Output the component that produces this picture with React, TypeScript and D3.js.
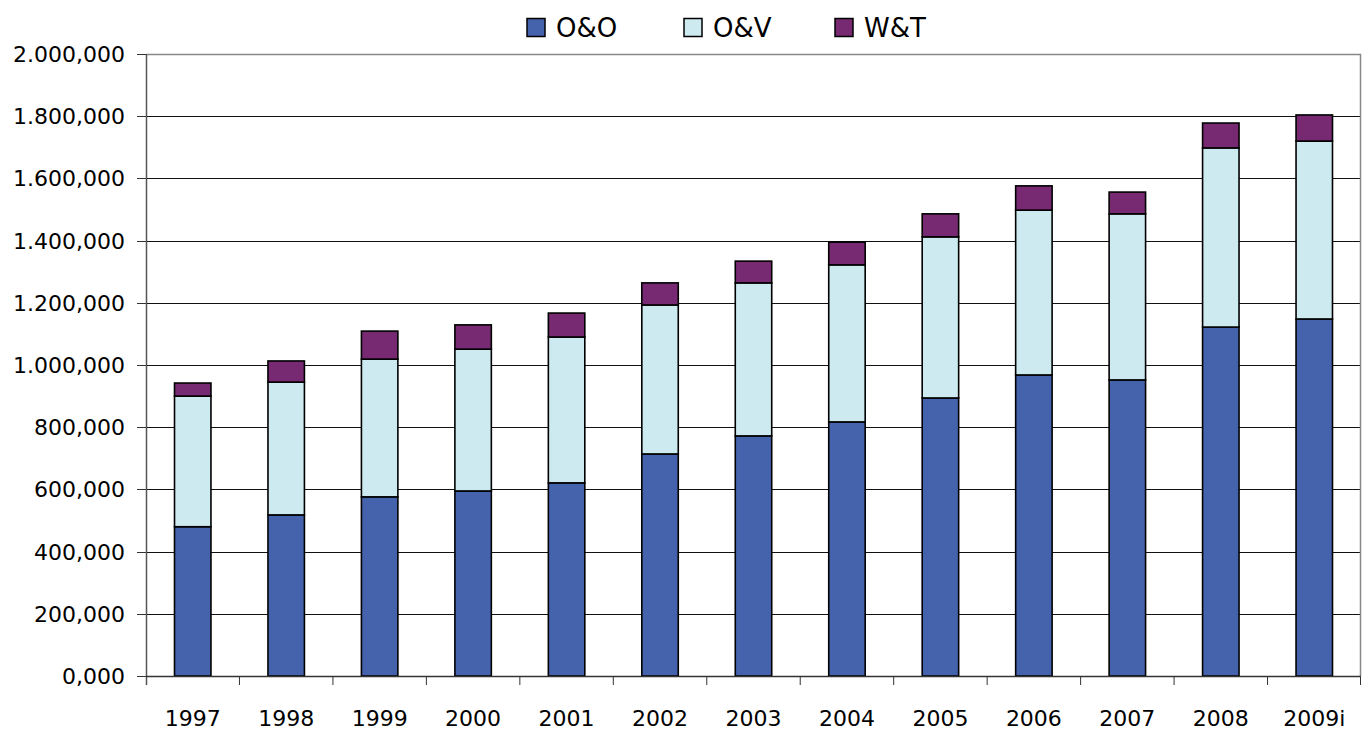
import React, { useEffect, useRef } from 'react';
import * as d3 from 'd3';

const years = ['1997', '1998', '1999', '2000', '2001', '2002', '2003', '2004', '2005', '2006', '2007', '2008', '2009i'];
const seriesKeys = ['O&O', 'O&V', 'W&T'];
const oeo = [480, 518, 576, 595, 621, 714, 772, 817, 894, 968, 952, 1122, 1148];
const oev = [420, 427, 443, 456, 469, 479, 492, 505, 518, 530, 534, 576, 572];
const wet = [42, 68, 90, 78, 77, 71, 70, 73, 74, 78, 70, 80, 84];
const yTicks = [0, 200, 400, 600, 800, 1000, 1200, 1400, 1600, 1800, 2000];

const colors: Record<string, string> = {
  'O&O': '#4563ad',
  'O&V': '#cdeaf0',
  'W&T': '#772a72',
};

const fmt = (v: number) => {
  if (v === 0) return '0,000';
  const m = Math.floor(v / 1000);
  const k = v % 1000;
  return m > 0 ? `${m}.${String(k).padStart(3, '0')},000` : `${k},000`;
};

function App() {
  const svgRef = useRef<SVGSVGElement>(null);

  useEffect(() => {
    const width = 1365;
    const height = 731;
    const margin = { top: 54, right: 4, bottom: 55, left: 146 };
    const innerWidth = width - margin.left - margin.right;
    const innerHeight = height - margin.top - margin.bottom;

    const svg = d3.select(svgRef.current);
    svg.selectAll('*').remove();
    svg.attr('width', width).attr('height', height);

    const font = 'DejaVu Sans, sans-serif';

    const table = years.map((y, i) => ({ year: y, 'O&O': oeo[i], 'O&V': oev[i], 'W&T': wet[i] }));
    const stacked = d3.stack<any>().keys(seriesKeys)(table);

    const x = d3.scaleBand().domain(years).range([0, innerWidth]).padding(0);
    const y = d3.scaleLinear().domain([0, 2000]).range([innerHeight, 0]);
    const barW = x.bandwidth() * 0.39;

    const g = svg.append('g').attr('transform', `translate(${margin.left},${margin.top})`);

    // gridlines
    g.selectAll('line.grid')
      .data(yTicks.filter((t) => t > 0 && t < 2000))
      .enter()
      .append('line')
      .attr('x1', 0)
      .attr('x2', innerWidth)
      .attr('y1', (d) => Math.round(y(d)) + 0.5)
      .attr('y2', (d) => Math.round(y(d)) + 0.5)
      .attr('stroke', '#111')
      .attr('stroke-width', 1);

    // plot border (top + right)
    g.append('path')
      .attr('d', `M0,${Math.round(y(2000)) + 0.5}H${innerWidth - 0.5}V${innerHeight}`)
      .attr('fill', 'none')
      .attr('stroke', '#888')
      .attr('stroke-width', 1.5);

    // bars
    stacked.forEach((layer) => {
      g.selectAll(`rect.s${layer.index}`)
        .data(layer)
        .enter()
        .append('rect')
        .attr('x', (d: any) => (x(d.data.year) || 0) + (x.bandwidth() - barW) / 2)
        .attr('y', (d) => y(d[1]))
        .attr('width', barW)
        .attr('height', (d) => y(d[0]) - y(d[1]))
        .attr('fill', colors[layer.key])
        .attr('stroke', '#000')
        .attr('stroke-width', 1.6);
    });

    // y axis
    g.append('line')
      .attr('x1', 0.5).attr('x2', 0.5)
      .attr('y1', y(2000)).attr('y2', innerHeight + 9)
      .attr('stroke', '#555').attr('stroke-width', 1.5);
    g.selectAll('line.ytick')
      .data(yTicks)
      .enter()
      .append('line')
      .attr('x1', -9).attr('x2', 0)
      .attr('y1', (d) => Math.round(y(d)) + 0.5)
      .attr('y2', (d) => Math.round(y(d)) + 0.5)
      .attr('stroke', '#333');
    g.selectAll('text.ylab')
      .data(yTicks)
      .enter()
      .append('text')
      .attr('x', -21)
      .attr('y', (d) => y(d) + 8)
      .attr('text-anchor', 'end')
      .attr('font-family', font)
      .attr('font-size', 22)
      .attr('fill', '#000')
      .text((d) => fmt(d));

    // x axis
    g.append('line')
      .attr('x1', 0).attr('x2', innerWidth)
      .attr('y1', innerHeight + 0.5).attr('y2', innerHeight + 0.5)
      .attr('stroke', '#333').attr('stroke-width', 1.5);
    g.selectAll('line.xtick')
      .data(years.slice(1).concat(['end']))
      .enter()
      .append('line')
      .attr('x1', (d) => (d === 'end' ? innerWidth - 0.5 : (x(d) || 0)))
      .attr('x2', (d) => (d === 'end' ? innerWidth - 0.5 : (x(d) || 0)))
      .attr('y1', innerHeight)
      .attr('y2', innerHeight + 9)
      .attr('stroke', '#333');
    g.selectAll('text.xlab')
      .data(years)
      .enter()
      .append('text')
      .attr('x', (d) => (x(d) || 0) + x.bandwidth() / 2)
      .attr('y', innerHeight + 50)
      .attr('text-anchor', 'middle')
      .attr('font-family', font)
      .attr('font-size', 22)
      .attr('fill', '#000')
      .text((d) => d);

    // legend
    const legendX = [527, 684, 835];
    const lg = svg.append('g');
    seriesKeys.forEach((k, i) => {
      lg.append('rect')
        .attr('x', legendX[i])
        .attr('y', 18.5)
        .attr('width', 18)
        .attr('height', 18)
        .attr('fill', colors[k])
        .attr('stroke', '#000')
        .attr('stroke-width', 1.5);
      lg.append('text')
        .attr('x', legendX[i] + 29)
        .attr('y', 37)
        .attr('font-family', font)
        .attr('font-size', 26)
        .attr('fill', '#000')
        .text(k);
    });
  }, []);

  return (
    <div style={{ position: 'fixed', left: 0, top: 0, background: '#fff' }}>
      <svg ref={svgRef} style={{ display: 'block' }} />
    </div>
  );
}

export default App;
